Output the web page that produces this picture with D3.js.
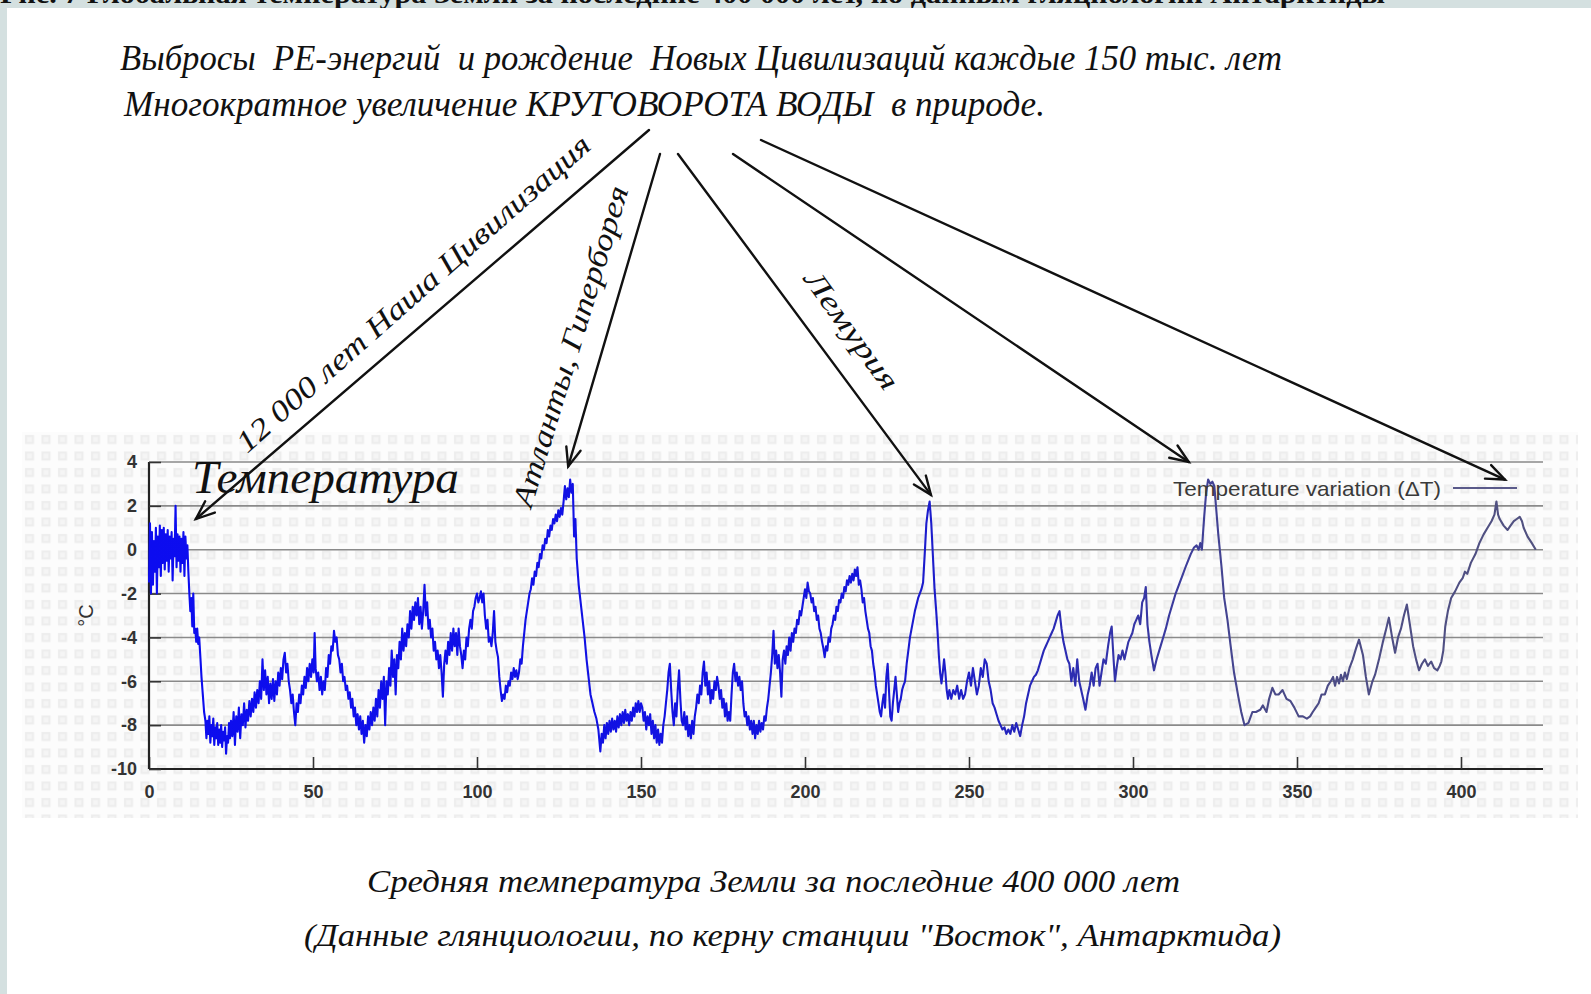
<!DOCTYPE html>
<html><head><meta charset="utf-8">
<script src="https://cdn.jsdelivr.net/npm/d3@7"></script>
<style>html,body{margin:0;padding:0;background:#fff;overflow:hidden}svg{display:block}</style>
</head><body>
<svg id="c" width="1591" height="994"></svg>
<script>
// ---- data (age in thousand years ago, temperature variation °C) ----
const series = [
[0.0,-1.5],[0.3,1.2],[0.6,-2.0],[0.9,0.8],[1.2,-1.6],[1.5,0.4],[1.8,-1.0],[2.1,1.0],[2.4,-2.0],[2.7,0.6],[3.0,-0.8],[3.3,1.1],[3.6,-1.2],[3.9,0.9],[4.2,-0.6],[4.5,1.0],[4.8,-0.9],[5.1,0.7],[5.4,-0.5],[5.7,0.9],[6.0,-1.0],[6.3,0.6],[6.6,-0.4],[6.9,0.8],[7.2,-1.4],[7.5,0.5],[7.8,-0.3],[8.1,2.0],[8.4,-0.8],[8.7,0.7],[9.0,-0.5],[9.3,0.6],[9.6,-1.0],[9.9,0.5],[10.2,-0.6],[10.5,0.8],[10.8,-1.2],[11.1,0.6],[11.4,-0.4],[11.7,0.2],[12.0,-1.0],
[12.3,-2.0],[12.6,-2.8],[12.9,-2.2],[13.2,-3.5],[13.5,-2.0],[13.8,-3.8],[14.1,-3.6],[14.4,-4.2],[14.7,-3.6],[15.0,-4.3],[15.3,-4.0],[15.7,-5.0],[16.0,-5.8],[16.4,-6.6],[16.8,-7.4],[17.2,-7.8],
[17.5,-8.6],[17.8,-7.8],[18.1,-8.4],[18.4,-7.6],[18.7,-8.8],[19.0,-8.0],[19.3,-8.5],[19.6,-7.7],[19.9,-8.9],[20.2,-8.1],[20.5,-8.6],[20.8,-7.9],[21.1,-8.9],[21.4,-8.2],[21.7,-8.8],[22.0,-8.0],[22.3,-9.0],[22.6,-8.3],[22.9,-8.7],[23.2,-8.1],[23.5,-9.3],[23.8,-8.5],[24.1,-8.8],[24.4,-7.9],[24.7,-8.6],
[25.0,-7.8],[25.4,-8.5],[25.8,-7.4],[26.2,-8.9],[26.6,-7.6],[27.0,-8.3],[27.4,-7.2],[27.8,-8.6],[28.2,-7.5],[28.6,-8.0],[29.0,-7.0],[29.4,-8.1],[29.8,-7.3],[30.2,-7.8],[30.6,-6.9],[31.0,-7.6],[31.4,-6.8],[31.8,-7.4],[32.2,-6.5],[32.6,-7.2],[33.0,-6.4],[33.4,-7.0],[33.8,-6.0],[34.2,-6.8],[34.6,-5.0],[35.0,-6.4],[35.4,-5.5],
[35.8,-6.6],[36.2,-5.8],[36.6,-7.0],[37.0,-6.1],[37.4,-6.8],[37.8,-5.9],[38.2,-6.9],[38.6,-6.0],[39.0,-6.6],[39.4,-5.6],[39.8,-6.2],[40.2,-5.4],[40.6,-5.9],[41.0,-5.0],[41.4,-4.7],[41.8,-5.6],[42.2,-5.2],[42.6,-6.0],[43.0,-6.4],[43.4,-7.0],[43.8,-6.6],[44.2,-7.4],[44.6,-8.0],[45.0,-7.0],
[45.4,-7.4],[45.8,-6.6],[46.2,-7.0],[46.6,-6.2],[47.0,-6.6],[47.4,-5.8],[47.8,-6.3],[48.2,-5.4],[48.6,-6.0],[49.0,-5.2],[49.4,-5.8],[49.8,-5.0],[50.2,-5.6],[50.5,-3.8],[50.8,-5.4],[51.2,-6.0],[51.6,-5.6],[52.0,-6.4],[52.4,-5.8],[52.8,-6.6],[53.2,-6.0],[53.6,-6.4],[54.0,-5.4],[54.4,-5.8],[54.8,-4.8],[55.2,-5.2],[55.6,-4.4],[56.0,-4.6],[56.4,-3.7],[56.8,-4.2],[57.2,-4.0],[57.6,-4.8],
[58.0,-5.0],[58.4,-5.6],[58.8,-5.2],[59.2,-6.0],[59.6,-5.8],[60.0,-6.4],[60.4,-6.2],[60.8,-6.8],[61.2,-6.5],[61.6,-7.2],[62.0,-6.8],[62.4,-7.6],[62.8,-7.2],[63.2,-8.0],[63.6,-7.5],[64.0,-8.2],[64.4,-7.6],[64.8,-8.4],[65.2,-7.8],[65.6,-8.8],[66.0,-8.0],[66.4,-8.5],
[66.8,-7.6],[67.2,-8.2],[67.6,-7.4],[68.0,-8.0],[68.4,-7.2],[68.8,-7.8],[69.2,-6.8],[69.6,-7.6],[70.0,-6.4],[70.4,-7.2],[70.8,-6.0],[71.2,-6.8],[71.6,-5.8],[72.0,-8.0],[72.4,-6.0],[72.8,-6.6],[73.2,-5.4],[73.6,-6.2],[74.0,-4.6],[74.4,-5.8],[74.8,-5.0],[75.2,-6.6],[75.6,-4.8],[76.0,-5.4],[76.4,-4.2],[76.8,-5.0],[77.2,-3.6],[77.6,-4.6],[78.0,-3.8],[78.4,-4.4],[78.8,-3.4],[79.2,-4.0],[79.6,-2.8],[80.0,-3.6],[80.4,-2.6],[80.8,-3.2],
[81.2,-2.4],[81.6,-3.0],[82.0,-2.2],[82.4,-3.4],[82.8,-2.6],[83.2,-3.6],[83.6,-2.8],[84.0,-1.6],[84.4,-3.0],[84.8,-2.4],[85.2,-3.6],[85.6,-3.2],[86.0,-4.0],[86.4,-3.6],[86.8,-4.6],[87.2,-4.2],[87.6,-5.0],[88.0,-4.6],[88.4,-5.4],[88.8,-4.8],[89.2,-5.6],[89.6,-6.7],[90.0,-5.2],
[90.4,-4.6],[90.8,-5.2],[91.2,-4.2],[91.6,-4.8],[92.0,-3.8],[92.4,-4.6],[92.8,-3.6],[93.2,-4.4],[93.6,-3.8],[94.0,-4.8],[94.4,-3.6],[94.8,-4.4],[95.2,-4.8],[95.6,-5.4],[96.0,-4.6],[96.4,-5.0],[96.8,-4.0],[97.2,-4.4],[97.6,-3.6],[98.0,-3.2],[98.4,-3.6],[98.8,-2.8],[99.2,-2.6],[99.6,-2.2],[100.0,-2.0],[100.4,-2.4],
[100.8,-2.2],[101.2,-1.9],[101.6,-2.4],[102.0,-2.0],[102.4,-3.0],[102.8,-3.6],[103.2,-3.2],[103.6,-4.2],[104.0,-4.0],[104.4,-4.4],[104.8,-3.8],[105.2,-2.8],[105.6,-4.2],[106.0,-4.6],[106.4,-4.9],[106.8,-5.8],[107.2,-6.4],[107.6,-6.9],[108.0,-6.6],[108.4,-6.8],[108.8,-6.2],[109.2,-6.5],[109.6,-6.0],[110.0,-6.2],[110.4,-5.6],[110.8,-5.9],[111.2,-5.4],[111.6,-5.8],[112.0,-5.5],[112.4,-5.9],[112.8,-5.6],
[113.2,-5.0],[113.6,-5.2],[114.0,-4.4],[114.4,-3.8],[114.8,-3.2],[115.2,-2.8],[115.6,-2.4],[116.0,-2.0],[116.4,-1.8],[116.8,-1.3],[117.2,-1.6],[117.6,-1.0],[118.0,-1.2],[118.4,-0.6],[118.8,-0.8],[119.2,-0.2],[119.6,-0.4],[120.0,0.2],[120.4,0.0],[120.8,0.5],[121.2,0.3],[121.6,0.9],[122.0,0.6],[122.4,1.1],[122.8,0.9],[123.2,1.4],[123.6,1.2],[124.0,1.6],[124.4,1.3],[124.8,1.8],[125.2,1.5],[125.6,1.9],[126.0,1.6],[126.4,2.2],[126.8,2.9],[127.2,2.3],[127.6,2.8],[128.0,2.4],[128.4,3.2],[128.8,2.6],[129.2,3.0],[129.6,0.6],[130.0,1.4],
[130.4,-0.4],[131.0,-1.6],[131.6,-2.4],[132.2,-3.2],[132.8,-4.0],[133.4,-5.0],[134.0,-5.8],[134.6,-6.6],[135.2,-7.0],[135.8,-7.4],[136.4,-7.7],[137.0,-8.2],[137.6,-9.2],[138.0,-8.4],
[138.4,-8.8],[138.8,-8.0],[139.2,-8.6],[139.6,-7.9],[140.0,-8.4],[140.4,-7.8],[140.8,-8.3],[141.2,-7.7],[141.6,-8.2],[142.0,-7.8],[142.4,-8.3],[142.8,-7.6],[143.2,-8.1],[143.6,-7.5],[144.0,-8.0],[144.4,-7.4],[144.8,-7.9],[145.2,-7.3],[145.6,-7.8],[146.0,-7.5],[146.4,-8.0],[146.8,-7.4],[147.2,-7.8],[147.6,-7.2],[148.0,-7.6],[148.4,-7.0],[148.8,-7.4],[149.2,-6.9],[149.6,-7.4],[150.0,-7.0],[150.4,-7.2],
[150.8,-7.8],[151.2,-7.4],[151.6,-8.2],[152.0,-7.6],[152.4,-8.0],[152.8,-7.5],[153.2,-8.4],[153.6,-7.8],[154.0,-8.6],[154.4,-8.0],[154.8,-8.8],[155.2,-8.2],[155.6,-8.9],[156.0,-8.4],[156.4,-8.8],[156.8,-8.0],[157.2,-7.6],[157.6,-7.0],[158.0,-6.4],[158.4,-5.6],[158.8,-5.2],[159.2,-6.4],
[159.6,-7.4],[160.0,-8.0],[160.4,-7.0],[160.8,-7.6],[161.2,-6.4],[161.6,-5.5],[162.0,-6.8],[162.4,-7.8],[162.8,-8.0],[163.2,-7.4],[163.6,-8.2],[164.0,-7.6],[164.4,-8.5],[164.8,-8.0],[165.2,-8.6],[165.6,-7.8],[166.0,-8.4],[166.4,-7.6],[166.8,-7.2],[167.2,-6.6],[167.6,-7.0],[168.0,-6.2],[168.4,-6.6],[168.8,-5.6],[169.2,-5.1],[169.6,-6.2],[170.0,-5.6],[170.4,-6.6],[170.8,-6.0],[171.2,-7.0],[171.6,-6.4],[172.0,-6.8],[172.4,-6.0],[172.8,-6.4],[173.2,-5.8],[173.6,-6.2],[174.0,-6.8],[174.4,-6.4],[174.8,-7.2],[175.2,-6.8],[175.6,-7.6],[176.0,-7.0],[176.4,-7.8],[176.8,-7.4],[177.2,-7.8],[177.6,-6.6],[178.0,-5.6],[178.4,-5.2],[178.8,-6.0],[179.2,-5.6],[179.6,-6.2],[180.0,-5.8],[180.4,-6.4],[180.8,-6.0],[181.2,-7.0],[181.6,-7.6],[182.0,-7.4],[182.4,-8.0],[182.8,-7.6],[183.2,-8.2],[183.6,-7.8],[184.0,-8.4],[184.4,-7.8],[184.8,-8.6],[185.2,-8.0],[185.6,-8.4],[186.0,-7.8],[186.4,-8.3],[186.8,-7.9],[187.2,-8.2],[187.6,-7.6],[188.0,-7.8],[188.4,-7.2],[188.8,-6.8],[189.2,-6.2],[189.6,-5.6],[190.0,-4.8],[190.4,-3.7],[190.8,-5.2],
[191.2,-4.6],[191.6,-5.4],[192.0,-4.8],[192.4,-5.6],[192.8,-6.7],[193.2,-5.0],[193.6,-4.6],[194.0,-5.2],[194.4,-4.4],[194.8,-4.8],[195.2,-4.0],[195.6,-4.6],[196.0,-3.8],[196.4,-4.2],[196.8,-3.6],[197.2,-3.8],[197.6,-3.2],[198.0,-3.4],[198.4,-2.8],[198.8,-3.0],[199.2,-2.6],[199.6,-2.2],[200.0,-1.8],[200.4,-2.2],[200.8,-1.5],[201.2,-1.9],[201.6,-2.0],[202.0,-2.4],[202.4,-2.2],[202.8,-2.8],[203.2,-2.6],[203.6,-3.2],[204.0,-3.0],[204.4,-3.6],[204.8,-3.8],[205.2,-4.2],[205.6,-4.5],[206.0,-4.9],[206.4,-4.4],[206.8,-4.6],[207.2,-4.0],[207.6,-4.2],[208.0,-3.6],[208.4,-3.4],[208.8,-3.0],[209.2,-3.2],[209.6,-2.6],[210.0,-2.8],[210.4,-2.3],[210.8,-2.4],[211.2,-2.0],[211.6,-2.2],[212.0,-1.7],[212.4,-1.9],[212.8,-1.4],[213.2,-1.6],[213.6,-1.2],[214.0,-1.5],[214.4,-1.1],[214.8,-1.4],[215.2,-0.9],[215.6,-1.2],[216.0,-0.8],[216.4,-1.6],[216.8,-1.4],[217.2,-1.8],[217.6,-2.4],[218.0,-2.2],[218.4,-2.8],[218.8,-3.2],[219.2,-3.6],[219.6,-3.8],[220.0,-4.4],[220.4,-4.6],[220.8,-5.2],[221.2,-5.6],[221.6,-6.2],[222.0,-6.6],[222.4,-7.0],[222.8,-7.4],[223.2,-7.6],[223.6,-7.0],[224.0,-6.6],[224.4,-7.2],[224.8,-5.8],[225.2,-5.2],[225.6,-6.4],[226.0,-7.6],[226.4,-7.8],[226.8,-7.0],[227.2,-6.4],[227.6,-5.8],[228.0,-6.6],[228.4,-7.4],[228.8,-7.0],[229.2,-6.8],[229.6,-6.4],[230.0,-6.2],[230.5,-6.0],
[231.0,-5.2],[231.5,-4.6],[232.0,-4.0],[232.5,-3.6],[233.0,-3.2],[233.5,-2.8],[234.0,-2.5],[234.5,-2.2],[235.0,-2.0],[235.5,-1.8],[236.0,-1.5],[236.5,-0.2],[237.0,1.2],[237.5,1.8],[238.0,2.2],[238.5,1.2],[239.0,-0.3],[239.5,-1.8],[240.0,-2.8],[240.4,-3.7],[240.8,-4.8],[241.2,-5.6],[241.6,-6.1],[242.0,-5.6],[242.4,-5.0],[242.8,-5.6],[243.2,-6.4],[243.6,-6.8],[244.0,-6.4],[244.6,-6.8],[245.2,-6.4],[245.8,-6.6],[246.4,-6.2],[247.0,-6.8],[247.6,-6.4],[248.2,-6.8],[248.8,-6.6],[249.4,-6.0],[250.0,-5.6],[250.6,-6.2],[251.2,-5.4],[251.8,-6.0],[252.4,-6.6],[253.0,-6.2],[253.6,-5.4],[254.2,-5.8],[254.8,-5.0],[255.4,-5.2],[256.0,-6.0],[256.6,-6.4],[257.2,-7.0],[257.8,-7.2],[258.4,-7.5],[259.0,-7.8],[259.6,-8.0],[260.2,-8.2],[260.8,-8.1],[261.4,-8.4],[262.0,-8.2],[262.6,-8.4],[263.2,-8.0],[263.8,-8.3],[264.4,-7.9],[265.0,-8.2],[265.6,-8.5],[266.2,-8.0],[266.8,-7.6],[267.4,-7.0],[268.0,-6.6],[268.6,-6.2],[269.2,-6.0],[269.8,-5.8],[270.4,-5.7],[271.0,-5.5],[271.6,-5.2],[272.2,-4.9],[272.8,-4.6],[273.4,-4.4],[274.0,-4.2],[274.6,-4.0],[275.2,-3.8],[275.8,-3.6],[276.4,-3.3],[277.0,-3.0],[277.6,-2.8],[278.2,-3.6],[278.8,-4.2],[279.4,-4.6],[280.0,-5.0],[280.6,-5.2],[281.2,-6.0],[281.8,-5.4],[282.4,-6.2],[283.0,-5.0],[283.6,-6.0],[284.2,-6.4],[284.8,-6.8],[285.5,-7.3],[286.2,-6.6],[286.8,-6.2],[287.4,-5.6],[288.0,-6.2],[288.6,-5.4],[289.2,-5.2],[289.8,-6.2],[290.4,-5.6],[291.0,-5.0],[291.7,-5.2],[292.4,-4.4],[293.0,-3.8],[293.5,-3.5],[294.0,-4.8],[294.5,-6.0],[295.0,-5.4],[295.6,-4.8],[296.2,-5.0],[296.8,-4.6],[297.4,-5.0],[298.0,-4.6],[298.6,-4.2],[299.2,-4.0],[299.8,-3.8],[300.4,-3.4],[301.0,-3.2],[301.6,-3.0],[302.2,-3.4],[302.8,-2.4],[303.4,-2.2],[303.9,-1.7],[304.4,-3.4],[305.0,-4.2],[305.6,-4.8],[306.4,-5.5],[307.2,-5.0],[308.2,-4.5],[309.2,-4.0],[310.0,-3.6],[311.0,-3.0],[312.0,-2.5],[313.0,-2.0],[314.0,-1.6],[315.0,-1.2],[316.0,-0.8],[316.8,-0.5],[317.6,-0.2],[318.6,0.1],[319.4,0.2],[320.0,0.0],[320.5,0.3],[321.0,0.0],[321.7,1.5],[322.3,2.6],[322.9,3.2],[323.6,3.0],[324.2,3.1],[324.8,2.9],[325.4,1.8],[326.0,0.7],[327.0,-0.8],[327.8,-2.2],[328.8,-3.2],[329.7,-4.3],[330.8,-5.6],[332.1,-6.7],[333.0,-7.4],[334.0,-8.0],[335.2,-7.9],[336.4,-7.4],[337.5,-7.4],[338.8,-7.3],[339.6,-7.1],[340.7,-7.4],[341.5,-6.8],[342.5,-6.3],[343.4,-6.6],[344.4,-6.6],[345.6,-6.4],[346.8,-6.8],[348.0,-6.9],[349.2,-7.2],[350.5,-7.6],[351.8,-7.6],[353.0,-7.7],[354.0,-7.6],[354.8,-7.4],[355.7,-7.2],[356.6,-7.0],[357.5,-6.6],[358.5,-6.6],[359.4,-6.2],[360.3,-6.0],[361.0,-5.8],[361.6,-6.2],[362.2,-5.8],[362.8,-6.1],[363.4,-5.7],[364.0,-6.0],[364.6,-5.6],[365.2,-5.9],[366.0,-5.4],[367.0,-5.0],[368.0,-4.5],[368.9,-4.1],[370.1,-4.8],[371.0,-5.8],[371.9,-6.6],[373.0,-6.0],[373.8,-5.7],[375.0,-5.0],[376.2,-4.2],[377.2,-3.6],[378.0,-3.1],[379.0,-4.0],[379.9,-4.7],[380.8,-4.0],[381.7,-3.6],[382.6,-3.0],[383.5,-2.5],[384.4,-3.4],[385.4,-4.4],[386.3,-5.0],[387.2,-5.5],[388.1,-5.2],[389.0,-5.0],[389.9,-5.3],[390.9,-5.1],[391.8,-5.4],[392.8,-5.5],[393.5,-5.3],[394.0,-5.1],[394.6,-4.6],[395.2,-3.5],[396.0,-2.8],[397.0,-2.2],[398.2,-1.9],[399.5,-1.5],[400.5,-1.3],[401.2,-1.0],[401.9,-1.1],[403.0,-0.6],[404.4,-0.2],[405.6,0.3],[406.9,0.7],[408.1,1.0],[409.3,1.3],[410.2,1.6],[410.8,2.2],[411.3,1.6],[411.8,1.4],[413.0,1.1],[414.2,0.9],[415.1,1.1],[416.1,1.3],[417.0,1.4],[417.9,1.5],[418.6,1.3],[419.1,1.0],[420.3,0.6],[421.6,0.3],[422.8,0.0]
];
const xTicks = [0, 50, 100, 150, 200, 250, 300, 350, 400];
const yTicks = [4, 2, 0, -2, -4, -6, -8, -10];
const headerText = "Рис. 7 Глобальная температура Земли за последние 400 000 лет, по данным гляциологии Антарктиды";
const titleLines = ["Выбросы  РЕ-энергий  и рождение  Новых Цивилизаций каждые 150 тыс. лет",
                    "Многократное увеличение КРУГОВОРОТА ВОДЫ  в природе."];
const captionLines = ["Средняя температура Земли за последние 400 000 лет",
                      "(Данные глянциологии, по керну станции \"Восток\", Антарктида)"];
const chartLabel = "Температура";
const legendLabel = "Temperature variation (ΔT)";
const yUnit = "°C";
// arrow targets (age kyr, temperature) and their annotation labels
const arrowTargets = [[14.3, 1.4], [127.8, 3.8], [238.4, 2.5], [317, 4.0], [413.4, 3.2]];
const arrowLabels = ["12 000 лет Наша Цивилизация", "Атланты, Гиперборея", "Лемурия"];

// ---- layout ----
const svg = d3.select("#c");
const x = d3.scaleLinear().domain([0, 425]).range([149, 1543]);
const y = d3.scaleLinear().domain([-10, 4]).range([769, 462]);
const serif = "'Liberation Serif','Times New Roman',serif";
const sans = "'Liberation Sans',Arial,sans-serif";

// frame
svg.append("rect").attr("width",1591).attr("height",994).attr("fill","#d4e0e0");
svg.append("text").attr("x",0).attr("y",3).attr("font-family",serif).attr("font-weight","bold")
  .attr("font-size",27).attr("fill","#111").attr("textLength",1385).attr("lengthAdjust","spacingAndGlyphs").text(headerText);
svg.append("rect").attr("x",7).attr("y",8).attr("width",1584).attr("height",986).attr("fill","#fff");

// checker background
const defs = svg.append("defs");
const pat = defs.append("pattern").attr("id","chk").attr("patternUnits","userSpaceOnUse")
  .attr("width",16.5).attr("height",16.5).attr("x",22).attr("y",432);
pat.append("rect").attr("width",16.5).attr("height",16.5).attr("fill","#fcfcfc");
pat.append("rect").attr("x",3).attr("y",3).attr("width",9).attr("height",9).attr("fill","#ededed");
pat.append("rect").attr("x",5).attr("y",5).attr("width",5).attr("height",5).attr("fill","#f5f5f5");
svg.append("rect").attr("x",22).attr("y",432).attr("width",1556).attr("height",386).attr("fill","url(#chk)");

// gradient for the series
const grad = defs.append("linearGradient").attr("id","lg").attr("gradientUnits","userSpaceOnUse")
  .attr("x1",x(0)).attr("x2",x(425)).attr("y1",0).attr("y2",0);
[[0,"#0c0cf0"],[0.5,"#1414dc"],[0.62,"#2424bc"],[0.72,"#3838a2"],[0.8,"#4a4a88"],[1,"#525280"]]
  .forEach(s=>grad.append("stop").attr("offset",s[0]).attr("stop-color",s[1]));

// grid
svg.append("g").selectAll("line").data(yTicks.filter(d=>d>-10)).join("line")
  .attr("x1",x(0)).attr("x2",x(425)).attr("y1",d=>y(d)).attr("y2",d=>y(d))
  .attr("stroke","#8a8a8a").attr("stroke-width",1.6);

// axes
const fmt = d => String(d);
const xAxis = d3.axisBottom(x).tickValues(xTicks).tickSize(-12).tickPadding(20).tickFormat(fmt);
const gx = svg.append("g").attr("transform",`translate(0,${y(-10)})`).call(xAxis);
gx.select(".domain").attr("stroke","#222").attr("stroke-width",2.2).attr("d",`M${x(0)},0H${x(425)}`);
gx.selectAll(".tick line").attr("stroke","#333").attr("stroke-width",1.6);
gx.selectAll("text").attr("font-family",sans).attr("font-size",18).attr("fill","#333").attr("font-weight","bold").attr("dy","0.5em");

const yAxis = d3.axisLeft(y).tickValues(yTicks).tickSize(-12).tickPadding(12).tickFormat(fmt);
const gy = svg.append("g").attr("transform",`translate(${x(0)},0)`).call(yAxis);
gy.select(".domain").attr("stroke","#222").attr("stroke-width",2.2).attr("d",`M0,${y(4)}V${y(-10)}`);
gy.selectAll(".tick line").attr("stroke","#333").attr("stroke-width",1.6);
gy.selectAll("text").attr("font-family",sans).attr("font-size",18).attr("fill","#333").attr("font-weight","bold");

svg.append("text").attr("transform",`translate(93,${y(-3)}) rotate(-90)`).attr("text-anchor","middle")
  .attr("font-family",sans).attr("font-size",20).attr("fill","#333").text(yUnit);

// series
const line = d3.line().x(d=>x(d[0])).y(d=>y(d[1]));
svg.append("path").datum(series).attr("d",line).attr("fill","none")
  .attr("stroke","url(#lg)").attr("stroke-width",2.1).attr("stroke-linejoin","round");

// legend
svg.append("text").attr("x",1441).attr("y",496).attr("text-anchor","end").attr("font-family",sans)
  .attr("font-size",21).attr("fill","#3a3a3a").attr("textLength",268).attr("lengthAdjust","spacingAndGlyphs").text(legendLabel);
svg.append("line").attr("x1",1453).attr("x2",1517).attr("y1",488).attr("y2",488)
  .attr("stroke","#5a5a8a").attr("stroke-width",2);

// chart label
svg.append("text").attr("x",192).attr("y",493).attr("font-family",serif).attr("font-style","italic")
  .attr("font-size",46).attr("fill","#111").attr("textLength",267).attr("lengthAdjust","spacingAndGlyphs").text(chartLabel);

// titles (keep the double spaces of the original)
svg.append("text").attr("x",120).attr("y",70).attr("font-family",serif).attr("font-style","italic").style("white-space","pre")
  .attr("font-size",35).attr("fill","#111").attr("textLength",1162).attr("lengthAdjust","spacingAndGlyphs").text(titleLines[0]);
svg.append("text").attr("x",124).attr("y",116).attr("font-family",serif).attr("font-style","italic").style("white-space","pre")
  .attr("font-size",35).attr("fill","#111").attr("textLength",921).attr("lengthAdjust","spacingAndGlyphs").text(titleLines[1]);

// captions
svg.append("text").attr("x",367).attr("y",892).attr("font-family",serif).attr("font-style","italic")
  .attr("font-size",31).attr("fill","#111").attr("textLength",813).attr("lengthAdjust","spacingAndGlyphs").text(captionLines[0]);
svg.append("text").attr("x",304).attr("y",946).attr("font-family",serif).attr("font-style","italic")
  .attr("font-size",31).attr("fill","#111").attr("textLength",977).attr("lengthAdjust","spacingAndGlyphs").text(captionLines[1]);

// arrows
const arrowSources = [[649,130],[660,154],[678,154],[733,154],[761,140]];
const ag = svg.append("g").attr("stroke","#111").attr("stroke-width",2.4).attr("fill","none").attr("stroke-linecap","round");
arrowTargets.forEach((t,i)=>{
  const [sx,sy] = arrowSources[i];
  const tx = x(t[0]), ty = y(t[1]);
  ag.append("line").attr("x1",sx).attr("y1",sy).attr("x2",tx).attr("y2",ty);
  const a = Math.atan2(ty-sy, tx-sx), L = 20, w = 0.38;
  ag.append("path").attr("d",`M${tx-L*Math.cos(a-w)},${ty-L*Math.sin(a-w)}L${tx},${ty}L${tx-L*Math.cos(a+w)},${ty-L*Math.sin(a+w)}`);
});

// rotated labels
const rl = [[413,293,-41.5,30,462],[570,346,-73,30,334],[852,330,54,29,140]];
rl.forEach((r,i)=>{
  svg.append("text").attr("transform",`translate(${r[0]},${r[1]}) rotate(${r[2]})`).attr("text-anchor","middle")
    .attr("dy","0.35em").attr("font-family",serif).attr("font-style","italic").attr("font-size",r[3]).attr("fill","#111")
    .attr("textLength",r[4]).attr("lengthAdjust","spacingAndGlyphs").text(arrowLabels[i]);
});
</script>
</body></html>
